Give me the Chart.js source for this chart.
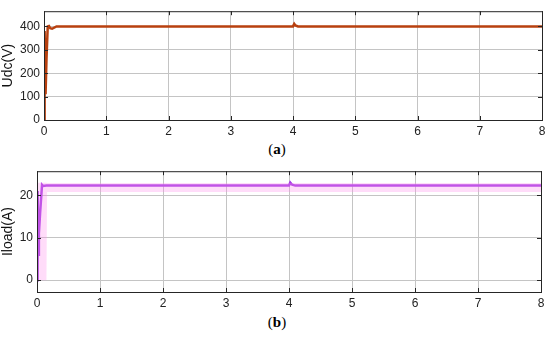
<!DOCTYPE html>
<html>
<head>
<meta charset="utf-8">
<script src="https://cdn.jsdelivr.net/npm/chart.js@4/dist/chart.umd.min.js"></script>
<style>
  body { margin: 0; background: #fff; width: 550px; height: 337px; position: relative; overflow: hidden; }
  .box { position: absolute; left: 0; width: 550px; }
  .cap { position: absolute; left: 0; width: 554px; text-align: center; font-family: "Liberation Serif", serif; font-size: 15px; color: #000; }
</style>
</head>
<body>
<div class="box" style="top:0;height:140px"><canvas id="udcChart"></canvas></div>
<div class="cap" style="top:141px">(<b>a</b>)</div>
<div class="box" style="top:160px;height:150px"><canvas id="iloadChart"></canvas></div>
<div class="cap" style="top:314px">(<b>b</b>)</div>
<script>
// time axis ticks (s)
const xTicks = [0, 1, 2, 3, 4, 5, 6, 7, 8];
const udcTicks = [0, 100, 200, 300, 400];
const iloadTicks = [0, 10, 20];

// DC bus voltage
const udcTime = [0, 0.01, 0.025, 0.04, 0.06, 0.08, 0.1, 0.13, 0.2, 0.3, 4.0, 4.02, 4.04, 4.08, 8];
const udcVals = [0, 380, 110, 260, 400, 402, 392, 390, 400, 400, 400, 411, 404, 400, 400];

// load current
const iloadTime = [0, 0.01, 0.02, 0.03, 0.05, 0.08, 0.1, 0.15, 4.0, 4.02, 4.05, 4.1, 8];
const iloadVals = [0, 21, 6, 11, 16, 22.5, 22.2, 22.3, 22.3, 23, 22.5, 22.3, 22.3];

// light envelope behind the current trace
const bandTime = [0, 0.15, 0.16, 8];
const bandHigh = [23, 23, 22.9, 22.9];
const bandLow = [0, 0, 20.8, 20.8];

const toXY = (xs, ys) => xs.map((x, i) => ({ x: x, y: ys[i] }));

const frame = {
  id: 'frame',
  afterDraw(chart) {
    const a = chart.chartArea, ctx = chart.ctx;
    ctx.save();
    ctx.strokeStyle = '#262626';
    ctx.lineWidth = 1;
    ctx.strokeRect(a.left + 0.5, a.top + 0.5, a.right - a.left, a.bottom - a.top);
    // inward tick marks
    ctx.beginPath();
    chart.scales.x.ticks.forEach(t => {
      const px = Math.round(chart.scales.x.getPixelForValue(t.value)) + 0.5;
      ctx.moveTo(px, a.bottom); ctx.lineTo(px, a.bottom - 4);
      ctx.moveTo(px, a.top); ctx.lineTo(px, a.top + 4);
    });
    chart.scales.y.ticks.forEach(t => {
      const py = Math.round(chart.scales.y.getPixelForValue(t.value)) + 0.5;
      ctx.moveTo(a.left, py); ctx.lineTo(a.left + 4, py);
      ctx.moveTo(a.right, py); ctx.lineTo(a.right - 4, py);
    });
    ctx.stroke();
    ctx.restore();
  }
};

function makeOptions(yMin, yMax, yTicks, title, leftW, bottomH, pad) {
  return {
    responsive: true,
    maintainAspectRatio: false,
    animation: false,
    layout: { padding: pad },
    plugins: { legend: { display: false }, tooltip: { enabled: false } },
    elements: { point: { radius: 0 } },
    scales: {
      x: {
        type: 'linear', min: 0, max: 8,
        afterBuildTicks: s => { s.ticks = xTicks.map(v => ({ value: v })); },
        afterFit: s => { s.height = bottomH; },
        grid: { color: '#c4c4c4', drawTicks: false },
        border: { display: false },
        ticks: { color: '#222', padding: 4, font: { family: 'Liberation Sans', size: 12 } }
      },
      y: {
        min: yMin, max: yMax,
        afterBuildTicks: s => { s.ticks = yTicks.map(v => ({ value: v })); },
        ticks: { color: '#222', padding: 4, font: { family: 'Liberation Sans', size: 12 } },
        afterFit: s => { s.width = leftW; },
        grid: { color: '#c4c4c4', drawTicks: false },
        border: { display: false },
        title: { display: true, text: title, color: '#111', padding: 0, font: { family: 'Liberation Sans', size: 14 } }
      }
    }
  };
}

new Chart(document.getElementById('udcChart'), {
  type: 'line',
  data: {
    datasets: [{
      data: toXY(udcTime, udcVals),
      borderColor: '#b8400f',
      borderWidth: 2.5,
      tension: 0
    }]
  },
  options: makeOptions(0, 465, udcTicks, 'Udc(V)', 44, 20, { top: 5, right: 8 }),
  plugins: [frame]
});

new Chart(document.getElementById('iloadChart'), {
  type: 'line',
  data: {
    datasets: [
      {
        data: toXY(bandTime, bandHigh),
        borderWidth: 0,
        backgroundColor: 'rgba(255, 140, 235, 0.3)',
        fill: '+1'
      },
      {
        data: toXY(bandTime, bandLow),
        borderWidth: 0,
        fill: false
      },
      {
        data: toXY(iloadTime, iloadVals),
        borderColor: '#a63ce6',
        borderWidth: 2.5,
        tension: 0
      }
    ]
  },
  options: makeOptions(-2.8, 25.7, iloadTicks, 'Iload(A)', 37, 18, { top: 11, right: 9 }),
  plugins: [frame]
});
</script>
</body>
</html>
